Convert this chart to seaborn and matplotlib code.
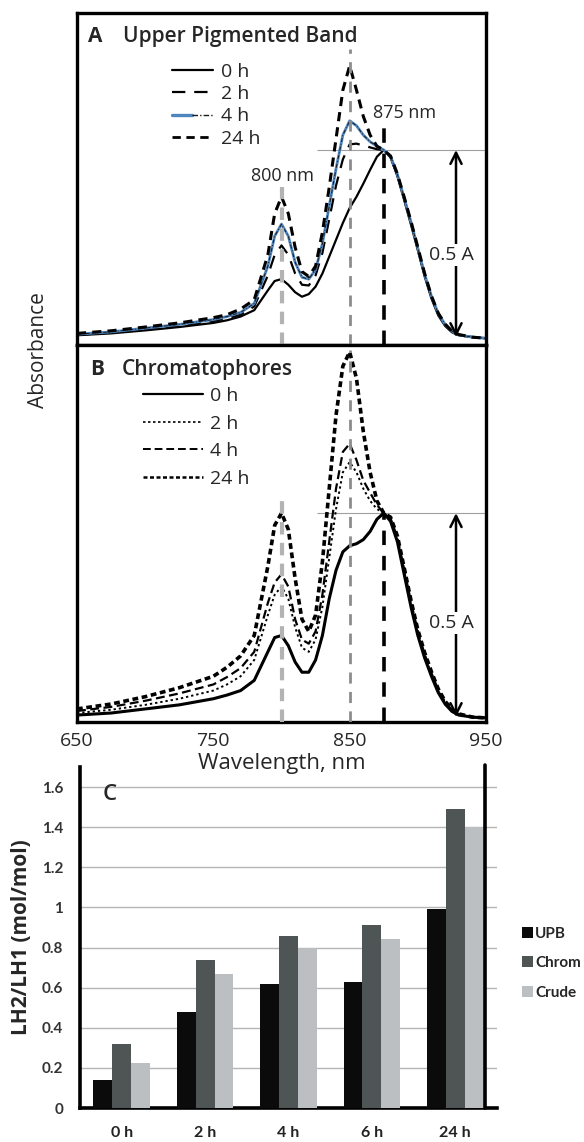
import numpy as np
import pandas as pd
import matplotlib
matplotlib.use("Agg")
import matplotlib.pyplot as plt
import seaborn as sns
from matplotlib.lines import Line2D
from matplotlib.legend_handler import HandlerTuple

# ---------------- data ----------------
wavelength = [650, 675, 700, 725, 750, 760, 770, 780, 790, 795, 800, 805, 810, 815,
              820, 825, 830, 835, 840, 845, 850, 855, 860, 865, 870, 875,
              880, 885, 890, 895, 900, 905, 910, 915, 920, 925, 930, 940, 950]

# Panel A: Upper Pigmented Band (normalised so 875 nm peak = 0.5)
upb_0h = [.005, .010, .018, .027, .038, .045, .055, .072, .125, .150, .155, .140, .120, .108,
          .115, .135, .170, .215, .260, .305, .345, .375, .410, .447, .482, .500,
          .480, .430, .366, .300, .232, .162, .103, .058, .030, .013, .005, .000, -.003]
upb_2h = [.006, .012, .021, .031, .043, .050, .060, .082, .165, .220, .245, .220, .170, .140,
          .138, .165, .225, .315, .405, .475, .515, .517, .512, .507, .502, .500,
          .482, .433, .370, .305, .236, .166, .107, .062, .033, .015, .006, .000, -.003]
upb_4h = [.008, .014, .024, .034, .047, .055, .066, .090, .190, .270, .302, .270, .200, .160,
          .155, .180, .250, .350, .450, .540, .578, .565, .540, .522, .510, .500,
          .483, .435, .372, .307, .238, .168, .109, .063, .034, .016, .006, .000, -.003]
upb_24h = [.010, .017, .027, .038, .052, .060, .075, .100, .220, .330, .375, .330, .240, .175,
           .162, .190, .280, .400, .530, .660, .725, .660, .590, .540, .510, .500,
           .484, .436, .374, .309, .240, .170, .110, .064, .035, .016, .007, .000, -.003]

# Panel B: Chromatophores
chr_0h = [.005, .010, .020, .030, .045, .054, .065, .090, .160, .195, .200, .175, .135, .110,
          .110, .140, .200, .290, .360, .405, .420, .425, .435, .455, .485, .500,
          .480, .430, .350, .270, .200, .145, .100, .060, .032, .014, .005, .000, -.002]
chr_2h = [.010, .018, .030, .045, .065, .080, .100, .140, .250, .300, .320, .290, .220, .170,
          .160, .190, .270, .390, .510, .600, .625, .600, .560, .530, .510, .500,
          .484, .436, .357, .277, .206, .150, .105, .064, .035, .016, .006, .000, -.002]
chr_4h = [.015, .025, .040, .058, .080, .098, .120, .160, .280, .330, .350, .320, .240, .190,
          .180, .210, .300, .430, .560, .650, .670, .630, .580, .550, .520, .500,
          .487, .440, .362, .282, .210, .154, .108, .066, .037, .017, .007, .000, -.002]
chr_24h = [.020, .032, .050, .072, .100, .122, .150, .200, .370, .470, .500, .460, .340, .240,
           .210, .250, .380, .560, .740, .860, .895, .830, .700, .600, .530, .500,
           .490, .444, .366, .286, .214, .158, .111, .069, .039, .019, .008, .000, -.002]

time_labels = ['0 h', '2 h', '4 h', '6 h', '24 h']
ratio_upb = [0.14, 0.48, 0.62, 0.63, 0.99]
ratio_chrom = [0.32, 0.74, 0.855, 0.91, 1.49]
ratio_crude = [0.225, 0.67, 0.80, 0.845, 1.40]
bar_series = ['UPB', 'Chrom', 'Crude']
y_ticks = [0, 0.2, 0.4, 0.6, 0.8, 1.0, 1.2, 1.4, 1.6]
y_tick_labels = ['0', '0.2', '0.4', '0.6', '0.8', '1', '1.2', '1.4', '1.6']
x_ticks = [650, 750, 850, 950]
marker_wl = [800, 850, 875]

# ---------------- style ----------------
sns.set_theme(style="white")
plt.rcParams['font.family'] = ['Open Sans', 'DejaVu Sans']

W, H = 584, 1142
fig = plt.figure(figsize=(W / 100, H / 100), dpi=100)


def rect(l, t, r, b):
    return [l / W, 1 - b / H, (r - l) / W, (b - t) / H]


axC = fig.add_axes(rect(80, 767, 497, 1108))
axA = fig.add_axes(rect(77, 13, 486, 345))
axB = fig.add_axes(rect(77, 345, 486, 722))
axC.patch.set_visible(False)

BLUE = '#4f86c0'

# ---- Panel A ----
sns.lineplot(x=wavelength, y=upb_0h, ax=axA, color='black', lw=1.6, linestyle='-')
sns.lineplot(x=wavelength, y=upb_2h, ax=axA, color='black', lw=1.6, linestyle=(0, (6, 4)))
sns.lineplot(x=wavelength, y=upb_4h, ax=axA, color=BLUE, lw=2.0, linestyle='-')
sns.lineplot(x=wavelength, y=upb_4h, ax=axA, color='#1a1a1a', lw=0.7, linestyle=(0, (4, 2, 1, 2)))
sns.lineplot(x=wavelength, y=upb_24h, ax=axA, color='black', lw=2.2, linestyle=(0, (3, 2)))

# ---- Panel B ----
sns.lineplot(x=wavelength, y=chr_0h, ax=axB, color='black', lw=2.2, linestyle='-')
sns.lineplot(x=wavelength, y=chr_2h, ax=axB, color='black', lw=1.4, linestyle=(0, (1.2, 1.5)))
sns.lineplot(x=wavelength, y=chr_4h, ax=axB, color='black', lw=1.6, linestyle=(0, (4, 2)))
sns.lineplot(x=wavelength, y=chr_24h, ax=axB, color='black', lw=2.6, linestyle=(0, (1.6, 1.0)))

for ax, ylim, tops in [(axA, (-0.021, 0.866), [0.40, 0.77, 0.56]),
                       (axB, (-0.012, 0.912), [0.55, 0.90, 0.50])]:
    ax.set_xlim(650, 950)
    ax.set_ylim(*ylim)
    ax.vlines(marker_wl[0], ylim[0], tops[0], color='#b3b3b3', lw=3.0,
              linestyles=[(0, (3, 2))], zorder=5)
    ax.vlines(marker_wl[1], ylim[0], tops[1], color='#8c8c8c', lw=2.0,
              linestyles=[(0, (4, 3))], zorder=5)
    ax.vlines(marker_wl[2], ylim[0], tops[2], color='black', lw=2.6,
              linestyles=[(0, (4, 3))], zorder=5)
    ax.hlines(0.5, 826, 950, color='#a0a0a0', lw=0.8, zorder=1)
    ax.annotate('', xy=(928, 0.0), xytext=(928, 0.5),
                arrowprops=dict(arrowstyle='<->', lw=1.8, color='black',
                                mutation_scale=20, shrinkA=0, shrinkB=0), zorder=6)
    ax.text(925, 0.22 if ax is axA else 0.23, '0.5 A', fontsize=14, ha='center', va='center',
            bbox=dict(facecolor='white', edgecolor='none', pad=1.5), zorder=7)
    ax.set_yticks([])
    for s in ax.spines.values():
        s.set_color('black')
        s.set_linewidth(2.4)
    ax.tick_params(length=0)

axA.set_xticks([])
axB.set_xticks(x_ticks)
axB.set_xticklabels([str(v) for v in x_ticks], fontsize=14)
axB.tick_params(axis='x', pad=7, length=0)
axB.set_xlabel('Wavelength, nm', fontsize=16, labelpad=2)

axA.text(801, 0.43, '800 nm', fontsize=13, ha='center', va='center')
axA.text(890, 0.60, '875 nm', fontsize=13, ha='center', va='center')

axA.text(0.027, 0.928, 'A', transform=axA.transAxes, fontsize=15, fontweight='bold', va='center')
axA.text(0.112, 0.928, 'Upper Pigmented Band', transform=axA.transAxes, fontsize=15,
         fontweight='semibold', va='center')
axB.text(0.032, 0.934, 'B', transform=axB.transAxes, fontsize=15, fontweight='bold', va='center')
axB.text(0.110, 0.934, 'Chromatophores', transform=axB.transAxes, fontsize=15,
         fontweight='semibold', va='center')

hA = [Line2D([], [], color='black', lw=1.6),
      Line2D([], [], color='black', lw=1.6, linestyle=(0, (6, 4))),
      (Line2D([], [], color=BLUE, lw=2.4),
       Line2D([], [], color='#1a1a1a', lw=1.0, linestyle=(0, (4, 1.5, 1, 1.5)))),
      Line2D([], [], color='black', lw=2.0, linestyle=(0, (3, 2)))]
axA.legend(hA, ['0 h', '2 h', '4 h', '24 h'], loc='upper left', bbox_to_anchor=(0.232, 0.85),
           frameon=False, fontsize=14, handlelength=2.1, handletextpad=0.45,
           labelspacing=0.22, borderpad=0, borderaxespad=0,
           handler_map={tuple: HandlerTuple(ndivide=None, pad=0)})

hB = [Line2D([], [], color='black', lw=1.6),
      Line2D([], [], color='black', lw=1.2, linestyle=(0, (1.5, 1.5))),
      Line2D([], [], color='black', lw=1.4, linestyle=(0, (4, 2))),
      Line2D([], [], color='black', lw=1.8, linestyle=(0, (1.6, 1.0)))]
axB.legend(hB, ['0 h', '2 h', '4 h', '24 h'], loc='upper left', bbox_to_anchor=(0.161, 0.889),
           frameon=False, fontsize=14, handlelength=3.1, handletextpad=0.35,
           labelspacing=0.5, borderpad=0, borderaxespad=0)

fig.text(38 / W, 1 - 350 / H, 'Absorbance', rotation=90, ha='center', va='center', fontsize=15)

# ---- Panel C ----
df = pd.DataFrame({
    'time': time_labels * 3,
    'sample': [bar_series[0]] * 5 + [bar_series[1]] * 5 + [bar_series[2]] * 5,
    'value': ratio_upb + ratio_chrom + ratio_crude,
})
sns.barplot(data=df, x='time', y='value', hue='sample', hue_order=bar_series,
            palette=['#0b0b0b', '#4e5554', '#bcbfc1'], width=0.68, saturation=1,
            linewidth=0, edgecolor='none', ax=axC, zorder=3)
axC.set_xlim(-0.5, 4.5)
axC.set_ylim(0, 1.7)
axC.set_yticks(y_ticks)
axC.set_yticklabels(y_tick_labels)
axC.yaxis.grid(True, color='#b5b5b5', lw=1.0)
axC.xaxis.grid(False)
axC.set_axisbelow(True)
for side in ['top', 'right']:
    axC.spines[side].set_visible(False)
for side in ['left', 'bottom']:
    axC.spines[side].set_color('black')
    axC.spines[side].set_linewidth(2.6)
axC.tick_params(axis='y', length=0, pad=12, labelsize=11, labelcolor='#333333')
axC.tick_params(axis='x', length=0, pad=13, labelsize=11.5, labelcolor='#222222')
for lab in axC.get_yticklabels() + axC.get_xticklabels():
    lab.set_fontfamily(['Lato', 'DejaVu Sans'])
    lab.set_fontweight('bold')
axC.set_xticks([0.5, 1.5, 2.5, 3.5, 4.5], minor=True)
axC.tick_params(axis='x', which='minor', length=5, width=1, color='#999999', direction='out')
axC.set_xlabel('')
axC.set_ylabel('LH2/LH1 (mol/mol)', fontsize=15, fontweight='bold')
axC.yaxis.set_label_coords(-0.115, 0.5)
axC.text(0.055, 0.918, 'C', transform=axC.transAxes, fontsize=16, fontweight='semibold',
         va='center', ha='left')

handles, labels = axC.get_legend_handles_labels()
axC.legend(handles, labels, loc='upper left', bbox_to_anchor=(522 / W, 1 - 927 / H),
           bbox_transform=fig.transFigure, frameon=False,
           prop=dict(family=['Lato', 'DejaVu Sans'], size=11, weight='bold'),
           handlelength=0.72, handleheight=0.72, handletextpad=0.15, labelspacing=1.0,
           borderpad=0, borderaxespad=0)

fig.add_artist(Line2D([485 / W, 485 / W], [1 - 765 / H, 1 - 1108 / H], color='black', lw=2.6,
                      transform=fig.transFigure))

fig.savefig('out.png', dpi=100)
